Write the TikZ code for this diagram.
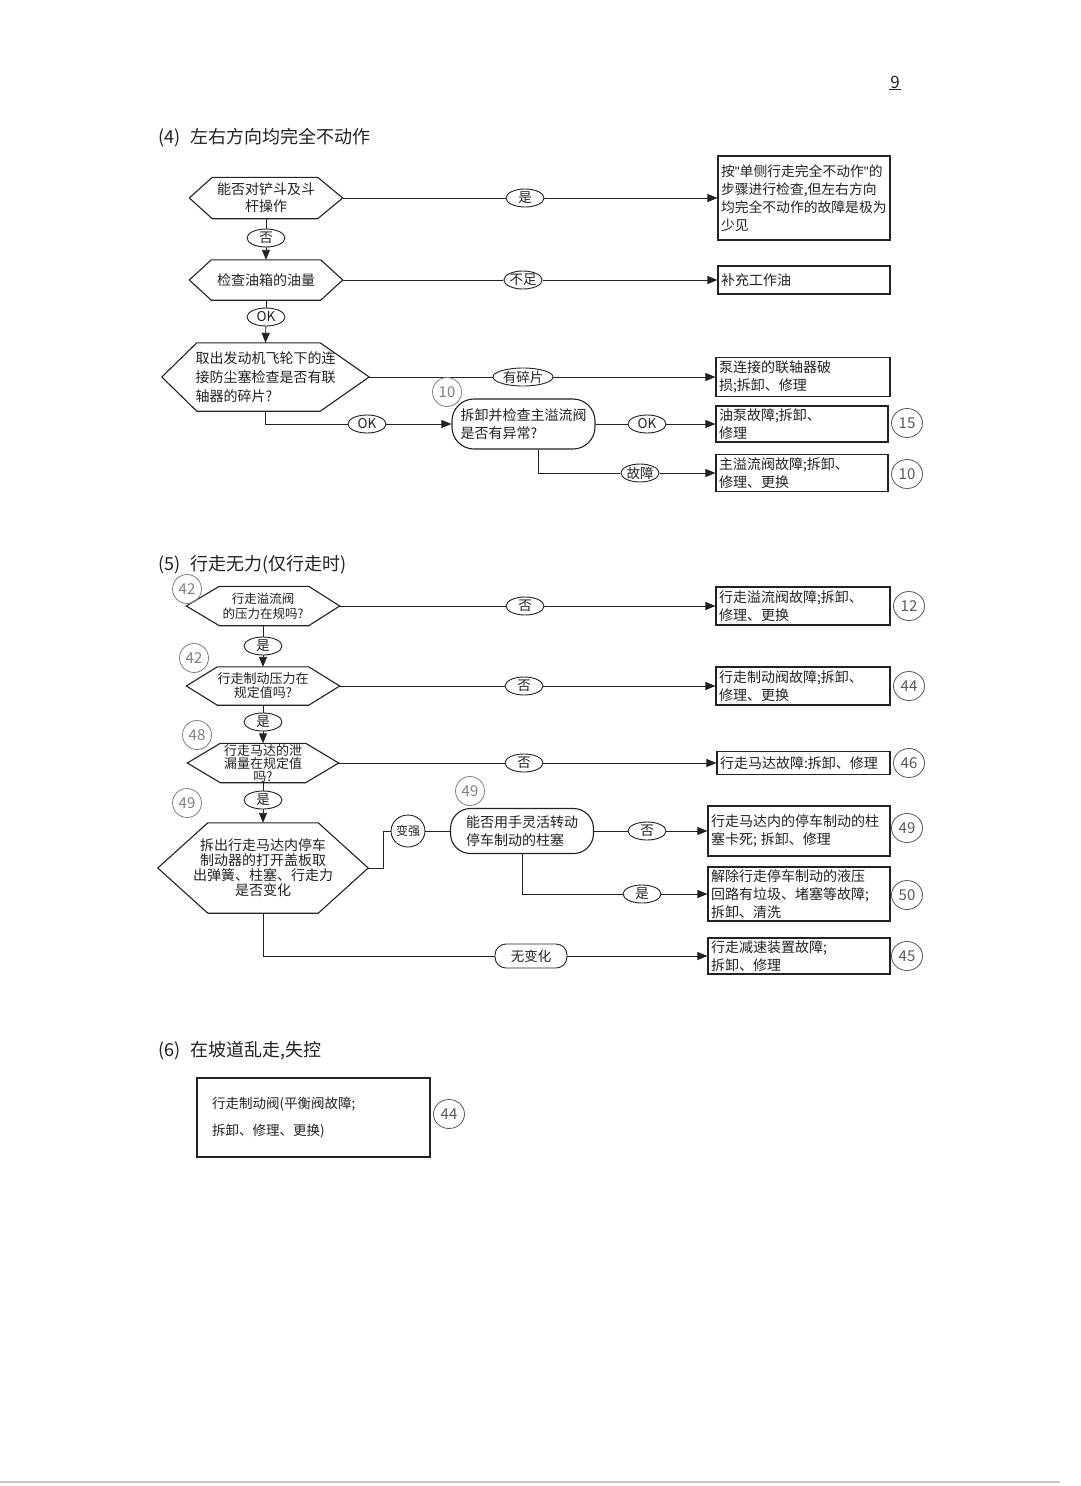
\documentclass[tikz,border=0pt]{standalone}
\usepackage{fontspec}
\setmainfont{Noto Sans CJK SC}
\newfontfamily\qfont{Liberation Sans}
\usetikzlibrary{arrows.meta,shapes.geometric,shapes.misc}
\definecolor{ink}{HTML}{222222}
\definecolor{pen}{HTML}{808080}
\newcommand\fsBox{\fontsize{14pt}{18pt}\selectfont}
\newcommand\fsBoxB{\fontsize{13.8pt}{18pt}\selectfont}
\newcommand\fsBoxC{\fontsize{13.5pt}{27pt}\selectfont}
\newcommand\fsHexA{\fontsize{14pt}{17pt}\selectfont}
\newcommand\fsHexB{\fontsize{14pt}{19pt}\selectfont}
\newcommand\fsHexC{\fontsize{12.5pt}{15pt}\selectfont}
\newcommand\fsHexD{\fontsize{13pt}{14pt}\selectfont}
\newcommand\fsHexE{\fontsize{13pt}{13pt}\selectfont}
\newcommand\fsHexF{\fontsize{14pt}{15pt}\selectfont}
\newcommand\fsLab{\fontsize{13.5pt}{15pt}\selectfont}
\newcommand\fsNum{\fontsize{15pt}{15pt}\selectfont}
\newcommand\fsTitle{\fontsize{18pt}{21pt}\selectfont}
\newcommand\fsPage{\fontsize{17pt}{20pt}\selectfont}
\newcommand\dq{{\qfont\symbol{34}}}
\newcommand\hexframe[3]{\draw[frame] (#1.west) -- ([xshift=#2]#1.north west) -- ([xshift=-#3]#1.north east) -- (#1.east) -- ([xshift=-#3]#1.south east) -- ([xshift=#2]#1.south west) -- cycle;}
\begin{document}
\begin{tikzpicture}[x=1pt,y=-1pt,
  line/.style={line width=0.9pt, draw=ink},
  arr/.style={line, -{Triangle[length=10pt,width=8pt]}},
  frame/.style={line width=1.1pt, draw=ink},
  box/.style={frame, draw, rectangle, align=left, inner xsep=3pt, inner ysep=1pt, font=\fsBox, text=ink},
  hexn/.style={rectangle, inner sep=0pt, align=center, text=ink},
  lab/.style={ellipse, draw=ink, line width=0.9pt, fill=white, inner sep=0pt, minimum width=38, minimum height=18, font=\fsLab, text=ink},
  rlab/.style={rectangle, rounded corners=11pt, draw=ink, line width=0.9pt, fill=white, inner sep=0pt, font=\fsLab, text=ink},
  rbox/.style={rectangle, draw=ink, line width=1.1pt, align=left, inner xsep=8pt, font=\fsBox, text=ink},
  num/.style={circle, draw=pen, text=pen, line width=0.8pt, inner sep=0pt, minimum size=29, font=\fsNum},
  onum/.style={ellipse, draw=ink!75, text=ink!75, line width=0.8pt, inner sep=0pt, minimum width=31, minimum height=29, font=\fsNum},
  title/.style={anchor=west, inner sep=0pt, font=\fsTitle, text=ink}
]
\fill[white] (0,0) rectangle (1080,1486);
\useasboundingbox (0,0) rectangle (1080,1486);

% page number
\node[font=\fsPage, inner sep=1pt, text=ink] (pg) at (895,82) {9};
\draw[line width=0.8pt, ink] (pg.south west) -- (pg.south east);

% ===== Section 4 =====
\node[title] (T4) at (158,138) {(4)\hspace{10pt}左右方向均完全不动作};

\node[hexn, minimum width=153, minimum height=41, font=\fsHexA] (D1) at (266,198) {能否对铲斗及斗\\杆操作};
\hexframe{D1}{23}{25}
\node[box, minimum width=172, minimum height=84, text width=166pt, font=\fsBoxB] (B1) at (804,198) {按\dq 单侧行走完全不动作\dq 的\\步骤进行检查,但左右方向\\均完全不动作的故障是极为\\少见};
\node[lab] (L1) at (525,198) {是};
\draw[line] (D1.east) -- (L1);
\draw[arr] (L1) -- (B1.west);

\node[hexn, minimum width=153, minimum height=40, font=\fsHexA] (D2) at (266,280) {检查油箱的油量};
\hexframe{D2}{22}{22}
\node[lab] (L2) at (266,238) {否};
\draw[line] (D1.south) -- (L2);
\draw[arr] (L2) -- (D2.north);
\node[box, minimum width=172, minimum height=28, text width=166pt] (B2) at (804,280) {补充工作油};
\node[lab] (L3) at (523,280) {不足};
\draw[line] (D2.east) -- (L3);
\draw[arr] (L3) -- (B2.west);

\node[hexn, align=left, minimum width=207, minimum height=68, font=\fsHexB] (D3) at (265.5,377) {取出发动机飞轮下的连\\接防尘塞检查是否有联\\轴器的碎片?};
\hexframe{D3}{35}{49}
\node[lab] (L4) at (266,317) {OK};
\draw[line] (D2.south) -- (L4);
\draw[arr] (L4) -- (D3.north);
\node[box, minimum width=174, minimum height=39, text width=168pt] (B3) at (803,377) {泵连接的联轴器破\\损;拆卸、修理};
\node[lab, minimum width=60] (L5) at (523,377) {有碎片};
\draw[line] (D3.east) -- (L5);
\draw[arr] (L5) -- (B3.west);

\node[rbox, rounded corners=22pt, minimum width=143, minimum height=50] (R1) at (523.5,424) {拆卸并检查主溢流阀\\是否有异常?};
\node[num] (N1) at (447,392) {10};
\node[lab] (L6) at (367,424) {OK};
\draw[line] (D3.south) |- (L6);
\draw[arr] (L6) -- (R1.west);

\node[box, minimum width=172, minimum height=36, text width=166pt] (B4) at (802,424) {油泵故障;拆卸、\\修理};
\node[lab] (L7) at (647,424) {OK};
\draw[line] (R1.east) -- (L7);
\draw[arr] (L7) -- (B4.west);
\node[onum] (O1) at (907,423) {15};

\node[box, minimum width=172, minimum height=37, text width=166pt] (B5) at (802,473) {主溢流阀故障;拆卸、\\修理、更换};
\node[lab] (L8) at (640,473) {故障};
\draw[line] ([xshift=14.5pt]R1.south) |- (L8);
\draw[arr] (L8) -- (B5.west);
\node[onum] (O2) at (907,474) {10};

% ===== Section 5 =====
\node[title] (T5) at (158,565) {(5)\hspace{10pt}行走无力(仅行走时)};

\node[hexn, minimum width=153, minimum height=39, font=\fsHexC] (D4) at (263,606) {行走溢流阀\\的压力在规吗?};
\hexframe{D4}{33}{31}
\node[num] (N2) at (187,589) {42};
\node[box, minimum width=174, minimum height=38, text width=168pt] (B6) at (803,606) {行走溢流阀故障;拆卸、\\修理、更换};
\node[lab] (L9) at (525,606) {否};
\draw[line] (D4.east) -- (L9);
\draw[arr] (L9) -- (B6.west);
\node[onum] (O3) at (909,606) {12};

\node[hexn, minimum width=153, minimum height=38, font=\fsHexD] (D5) at (263,686) {行走制动压力在\\规定值吗?};
\hexframe{D5}{31}{31}
\node[num] (N3) at (194,658) {42};
\node[lab] (L10) at (263,646) {是};
\draw[line] (D4.south) -- (L10);
\draw[arr] (L10) -- (D5.north);
\node[box, minimum width=174, minimum height=38, text width=168pt] (B7) at (803,686) {行走制动阀故障;拆卸、\\修理、更换};
\node[lab] (L11) at (524,686) {否};
\draw[line] (D5.east) -- (L11);
\draw[arr] (L11) -- (B7.west);
\node[onum] (O4) at (909,686) {44};

\node[hexn, minimum width=151, minimum height=39, font=\fsHexE] (D6) at (263,763) {行走马达的泄\\漏量在规定值\\吗?};
\hexframe{D6}{33}{33}
\node[num] (N4) at (197,735) {48};
\node[lab] (L12) at (263,722) {是};
\draw[line] (D5.south) -- (L12);
\draw[arr] (L12) -- (D6.north);
\node[box, minimum width=173, minimum height=23, text width=167pt] (B8) at (803.5,763) {行走马达故障:拆卸、修理};
\node[lab] (L13) at (524,763) {否};
\draw[line] (D6.east) -- (L13);
\draw[arr] (L13) -- (B8.west);
\node[onum] (O5) at (909,763) {46};

\node[hexn, minimum width=210, minimum height=90, font=\fsHexF] (D7) at (263,868) {拆出行走马达内停车\\制动器的打开盖板取\\出弹簧、柱塞、行走力\\是否变化};
\hexframe{D7}{50}{50}
\node[num] (N5) at (187,803) {49};
\node[lab] (L14) at (263,800) {是};
\draw[line] (D6.south) -- (L14);
\draw[arr] (L14) -- (D7.north);

\node[rbox, rounded corners=20pt, minimum width=143, minimum height=45] (R2) at (522,831) {能否用手灵活转动\\停车制动的柱塞};
\node[num] (N6) at (470,791) {49};
\node[lab, font=\fontsize{12pt}{13pt}\selectfont, minimum width=30, minimum height=32] (L15) at (408,831) {变强};
\draw[line] (D7.east) -- ++(15,0) |- (L15);
\draw[line] (L15) -- (R2.west);

\node[box, minimum width=182, minimum height=50, text width=176pt] (B9) at (799,831) {行走马达内的停车制动的柱\\塞卡死;\hspace{4pt}拆卸、修理};
\node[lab] (L16) at (647,831) {否};
\draw[line] (R2.east) -- (L16);
\draw[arr] (L16) -- (B9.west);
\node[onum] (O6) at (907,828) {49};

\node[box, minimum width=182, minimum height=54, text width=176pt] (B10) at (799,894) {解除行走停车制动的液压\\回路有垃圾、堵塞等故障;\\拆卸、清洗};
\node[lab] (L17) at (642,894) {是};
\draw[line] (R2.south) |- (L17);
\draw[arr] (L17) -- (B10.west);
\node[onum] (O7) at (907,895) {50};

\node[box, minimum width=182, minimum height=36, text width=176pt] (B11) at (799,956) {行走减速装置故障;\\拆卸、修理};
\node[rlab, minimum width=72, minimum height=24] (L18) at (531,956) {无变化};
\draw[line] (D7.south) |- (L18);
\draw[arr] (L18) -- (B11.west);
\node[onum] (O8) at (907,956) {45};

% ===== Section 6 =====
\node[title] (T6) at (158,1051) {(6)\hspace{10pt}在坡道乱走,失控};
\node[box, inner xsep=15pt, minimum width=233, minimum height=79, text width=203pt, font=\fsBoxC] (B12) at (313.5,1117.5) {行走制动阀(平衡阀故障;\\拆卸、修理、更换)};
\node[onum] (O9) at (449,1114) {44};

% bottom scan edge
\draw[line width=1.5pt, gray!45] (0,1482) -- (1060,1482);
\end{tikzpicture}
\end{document}
